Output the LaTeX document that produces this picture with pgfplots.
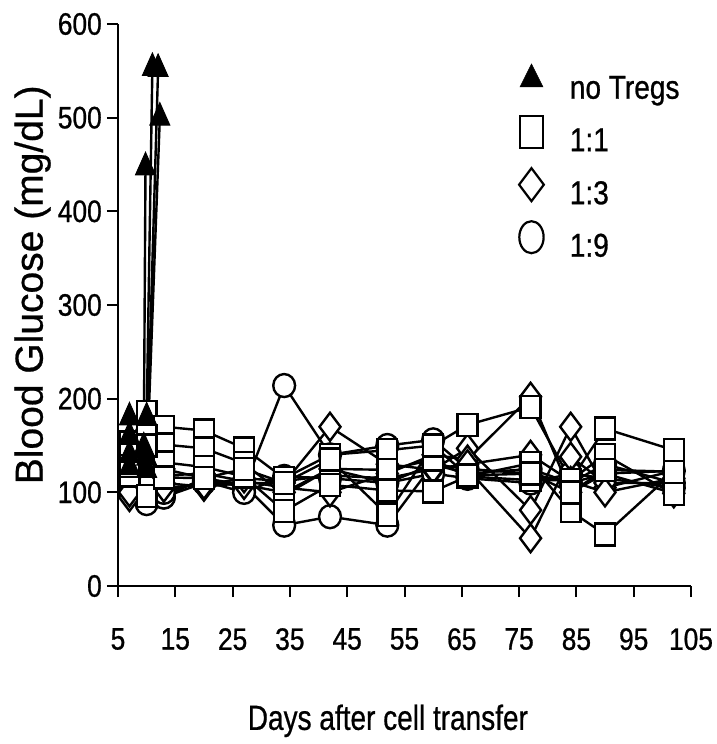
\documentclass[border=0pt]{standalone}
\usepackage{fontspec}
\setmainfont[FakeBold=0.6]{Liberation Sans}
\newfontfamily\narrowfont[FakeStretch=0.85, FakeBold=0.8]{Liberation Sans}
\newfontfamily\xlabfont[FakeStretch=0.80, FakeBold=0.6]{Liberation Sans}
\usepackage{pgfplots}
\pgfplotsset{compat=1.18}

\pgfplotsset{
  mouse/.style={black, line width=2.4pt, forget plot},
  sq/.style={mouse, mark=square*, mark size=11pt,
    mark options={fill=white, xscale=0.9, line width=2.4pt}},
  di/.style={mouse, mark=diamond*, mark size=14pt,
    mark options={fill=white, line width=2.4pt}},
  ci/.style={mouse, mark=*, mark size=11.5pt,
    mark options={fill=white, xscale=0.95, line width=2.4pt}},
  tr/.style={mouse, mark=triangle*, mark size=11.5pt,
    mark options={fill=black, yscale=1.3, line width=1pt}},
}

\begin{document}
\begin{tikzpicture}
\useasboundingbox (-118pt,-158pt) rectangle (599pt,586pt);
\begin{axis}[
  at={(0pt,0pt)}, anchor=south west,
  scale only axis, width=573pt, height=562pt,
  xmin=5, xmax=105, ymin=0, ymax=600,
  xtick={5,15,...,105}, ytick={0,100,...,600},
  axis lines=left, axis line style={-, line width=2pt},
  tick align=outside, major tick length=11pt,
  tick style={line width=2pt, black},
  clip=false,
  /pgf/number format/assume math mode=true,
  tick label style={font=\narrowfont\fontsize{31}{31}\selectfont},
  xticklabel style={inner sep=0pt, anchor=north, yshift=-31pt},
  yticklabel style={inner sep=0pt, anchor=east, xshift=-5pt},
  xlabel={\xlabfont\fontsize{35}{35}\selectfont Days after cell transfer},
  xlabel style={at={(axis description cs:0.471,-0.256)}, anchor=base, inner sep=0pt},
  ylabel={\fontsize{39}{39}\selectfont Blood Glucose (mg/dL)},
  ylabel style={at={(axis description cs:-0.117,0.536)}, anchor=south, inner sep=0pt, rotate=0},
  legend style={draw=none, fill=none, inner sep=0pt, outer sep=0pt,
    at={(axis description cs:0.700,0.929)}, anchor=north west,
    column sep=26pt, row sep=10pt,
    nodes={inner sep=0pt, text height=24pt, text depth=7pt,
      font=\narrowfont\fontsize{33}{33}\selectfont}},
  legend cell align=left,
  legend image code/.code={\draw[#1] plot coordinates {(0pt,11pt)};},
]
% 1:9 (circles)
\addplot[ci] coordinates {(7,105) (10,88) (13,95) (20,115) (27,105) (34,214) (42,140) (52,150) (60,156) (66,125) (77,120) (84,110) (90,120) (102,123)};
\addplot[ci] coordinates {(7,110) (10,100) (13,95) (20,110) (27,108) (34,65) (42,74) (52,65) (60,130) (66,120) (77,125) (84,110) (90,130) (102,110)};
\addplot[ci] coordinates {(7,120) (10,110) (13,100) (20,112) (27,100) (34,117) (42,115) (52,110) (60,120) (66,115) (77,110) (84,120) (90,115) (102,105)};
% 1:3 (diamonds)
\addplot[di] coordinates {(7,95) (10,120) (13,110) (20,106) (27,110) (34,110) (42,170) (52,130) (60,124) (66,147) (77,81) (84,170) (90,105) (102,123)};
\addplot[di] coordinates {(7,110) (10,115) (13,118) (20,120) (27,112) (34,105) (42,100) (52,120) (60,140) (66,135) (77,202) (84,100) (90,120) (102,99)};
\addplot[di] coordinates {(7,120) (10,105) (13,125) (20,115) (27,108) (34,100) (42,125) (52,110) (60,130) (66,125) (77,51) (84,138) (90,110) (102,110)};
\addplot[di] coordinates {(7,100) (10,110) (13,105) (20,108) (27,115) (34,112) (42,118) (52,115) (60,125) (66,130) (77,140) (84,112) (90,100) (102,115)};
% 1:1 (squares)
\addplot[sq] coordinates {(7,153) (10,186) (13,170) (20,166) (27,147) (34,115) (42,140) (52,145) (60,150) (66,172) (77,191) (84,113) (90,168) (102,145)};
\addplot[sq] coordinates {(7,118) (10,96) (13,151) (20,147) (27,131) (34,97) (42,125) (52,124) (60,135) (66,117) (77,131) (84,80) (90,55) (102,122)};
\addplot[sq] coordinates {(7,140) (10,160) (13,132) (20,127) (27,117) (34,80) (42,108) (52,102) (60,101) (66,117) (77,113) (84,113) (90,140) (102,98)};
\addplot[sq] coordinates {(7,128) (10,150) (13,116) (20,115) (27,125) (34,110) (42,135) (52,76) (60,150) (66,118) (77,120) (84,100) (90,124) (102,122)};
% no Tregs (triangles)
\addplot[tr] coordinates {(7,180) (10,180) (11,553)};
\addplot[tr] coordinates {(7,140) (10,137) (12,552)};
\addplot[tr] coordinates {(7,127) (10,124) (12.3,500)};
\addplot[tr] coordinates {(7,160) (9.5,148) (9.8,447)};
% legend
\addlegendimage{only marks, mark=triangle*, mark size=13.3pt, mark options={fill=black, yscale=1.15}}
\addlegendentry{no Tregs}
\addlegendimage{only marks, mark=square, mark size=16pt, line width=2.2pt, mark options={xscale=0.72}}
\addlegendentry{1:1}
\addlegendimage{only marks, mark=diamond, mark size=16.5pt, line width=2.2pt}
\addlegendentry{1:3}
\addlegendimage{only marks, mark=o, mark size=16pt, line width=2.2pt, mark options={xscale=0.76}}
\addlegendentry{1:9}
\end{axis}
\end{tikzpicture}
\end{document}
